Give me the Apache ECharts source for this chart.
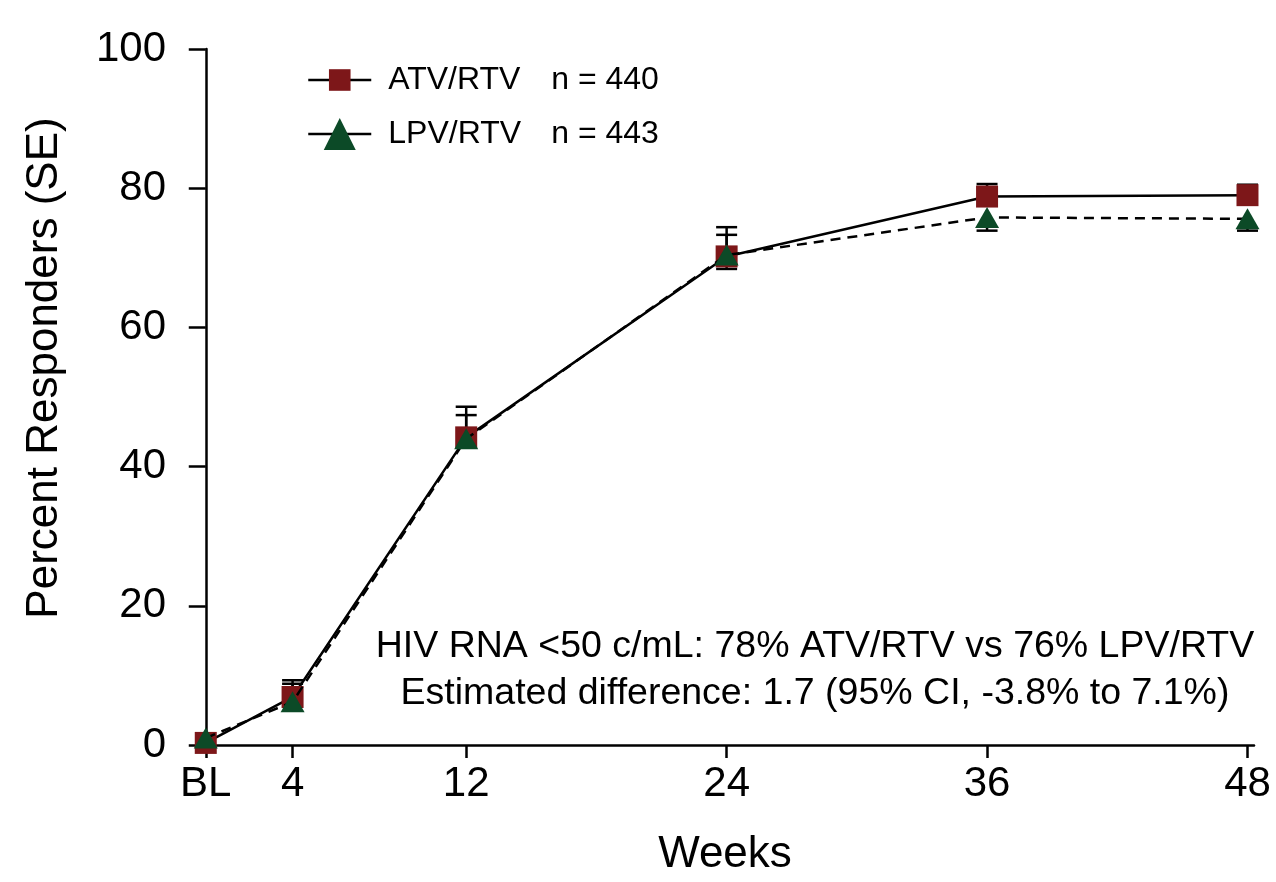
<!DOCTYPE html>
<html>
<head>
<meta charset="utf-8">
<script src="https://cdn.jsdelivr.net/npm/echarts@6/dist/echarts.min.js"></script>
<style>
html,body{margin:0;padding:0;background:#fff;}
#chart{width:1276px;height:882px;}
</style>
</head>
<body>
<div id="chart"></div>
<script>
// ---- data ----
const weeks = [0, 4, 12, 24, 36, 48];
const weekLabels = ['BL', '4', '12', '24', '36', '48'];
const atvValues = [0.3, 6.9, 44.2, 70.2, 78.8, 79.0];
const lpvValues = [1.0, 6.2, 44.0, 70.4, 75.8, 75.6];
const atvUpper = [null, 9.3, 48.6, 74.4, 80.6, 80.5];
const lpvUpper = [null, 8.8, 47.4, 73.3, null, null];
const lpvLower = [null, null, null, 68.4, 73.9, 73.9];
const yTicks = [0, 20, 40, 60, 80, 100];
const legendNames = ['ATV/RTV', 'LPV/RTV'];
const legendN = ['n = 440', 'n = 443'];
const noteLines = [
  'HIV RNA <50 c/mL: 78% ATV/RTV vs 76% LPV/RTV',
  'Estimated difference: 1.7 (95% CI, -3.8% to 7.1%)'
];

const FONT = '"Liberation Sans", Arial, sans-serif';
const RED = '#7d1719';
const GREEN = '#0c4a27';

function pairs(vals) { return weeks.map((w, i) => [w, vals[i]]); }
function errPairs(vals, base) {
  const out = [];
  weeks.forEach((w, i) => { if (vals[i] != null) out.push([w, base[i], vals[i]]); });
  return out;
}

const errData = errPairs(atvUpper, atvValues)
  .concat(errPairs(lpvUpper, lpvValues))
  .concat(errPairs(lpvLower, lpvValues));

const chart = echarts.init(document.getElementById('chart'));
const legendBase = {
  left: 302, orient: 'vertical', itemWidth: 63,
  lineStyle: { type: 'solid', width: 2.5, color: '#000' },
  textStyle: {
    fontFamily: FONT, fontSize: 32, color: '#000', padding: [0, 0, 0, 12],
    rich: { a: { fontFamily: FONT, fontSize: 32, width: 163, color: '#000' }, b: { fontFamily: FONT, fontSize: 32, color: '#000' } }
  },
  formatter: name => '{a|' + name + '}{b|' + legendN[legendNames.indexOf(name)] + '}'
};
chart.setOption({
  animation: false,
  backgroundColor: '#fff',
  grid: { left: 196, right: 22, top: 49, bottom: 135, containLabel: false },
  legend: [
    Object.assign({}, legendBase, { top: 77 - 18, itemHeight: 27, data: [legendNames[0]] }),
    Object.assign({}, legendBase, { top: 133 - 20, itemHeight: 40, data: [legendNames[1]] })
  ],
  xAxis: {
    type: 'value', min: -0.45, max: 48.3,
    name: 'Weeks', nameLocation: 'middle', nameGap: 88,
    nameTextStyle: { fontFamily: FONT, fontSize: 44, color: '#000' },
    axisLine: { lineStyle: { color: '#000', width: 2.5 } },
    axisTick: { show: true, inside: false, length: 13, lineStyle: { color: '#000', width: 2.5 }, customValues: weeks },
    axisLabel: {
      customValues: weeks, margin: 18, fontFamily: FONT, fontSize: 42, color: '#000',
      formatter: v => weekLabels[weeks.indexOf(v)]
    },
    splitLine: { show: false }
  },
  yAxis: {
    type: 'value', min: 0, max: 100, interval: 20,
    axisLine: { show: true, lineStyle: { color: '#000', width: 2.5 } },
    axisTick: { show: true, inside: false, length: 17, lineStyle: { color: '#000', width: 2.5 } },
    axisLabel: { margin: 30, fontFamily: FONT, fontSize: 42, color: '#000',
      formatter: v => yTicks.indexOf(v) >= 0 ? String(v) : '' },
    splitLine: { show: false }
  },
  graphic: [
    { type: 'text', rotation: Math.PI / 2, z: 10, x: 45, y: 368,
      style: { text: 'Percent Responders (SE)', fontFamily: FONT, fontSize: 44, fill: '#000', align: 'center', verticalAlign: 'middle' } },
    { type: 'text', z: 10, x: 815, y: 647,
      style: { text: noteLines[0], fontFamily: FONT, fontSize: 37.5, fill: '#000', align: 'center', verticalAlign: 'middle' } },
    { type: 'text', z: 10, x: 815, y: 694,
      style: { text: noteLines[1], fontFamily: FONT, fontSize: 37.5, fill: '#000', align: 'center', verticalAlign: 'middle' } }
  ],
  series: [
    {
      type: 'custom', name: 'err', z: 1, silent: true,
      renderItem: function (params, api) {
        const x = api.value(0);
        const p0 = api.coord([x, api.value(1)]);
        const p1 = api.coord([x, api.value(2)]);
        const hw = 10.5;
        return {
          type: 'group',
          children: [
            { type: 'line', shape: { x1: p0[0], y1: p0[1], x2: p1[0], y2: p1[1] }, style: { stroke: '#000', lineWidth: 2.5 } },
            { type: 'line', shape: { x1: p1[0] - hw, y1: p1[1], x2: p1[0] + hw, y2: p1[1] }, style: { stroke: '#000', lineWidth: 2.5 } }
          ]
        };
      },
      encode: { x: 0, y: [1, 2] },
      data: errData
    },
    {
      type: 'line', name: legendNames[1], z: 3,
      data: pairs(lpvValues),
      symbol: 'triangle', symbolSize: [24, 21],
      itemStyle: { color: GREEN, borderWidth: 0 },
      lineStyle: { color: '#000', width: 2.5, type: [10, 7] },
      emphasis: { disabled: true }
    },
    {
      type: 'line', name: legendNames[0], z: 2,
      data: pairs(atvValues),
      symbol: 'rect', symbolSize: 22,
      itemStyle: { color: RED, borderWidth: 0 },
      lineStyle: { color: '#000', width: 2.5 },
      emphasis: { disabled: true }
    }
  ]
});
</script>
</body>
</html>
